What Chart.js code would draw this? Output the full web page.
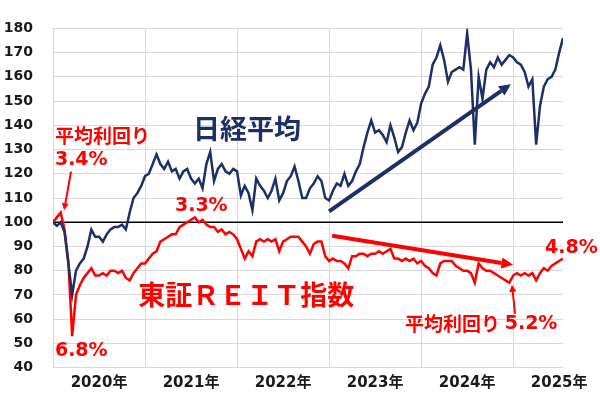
<!DOCTYPE html>
<html>
<head>
<meta charset="utf-8">
<script src="https://cdn.jsdelivr.net/npm/chart.js@4.4.1/dist/chart.umd.min.js"></script>
<style>
  html, body { margin: 0; padding: 0; background: #fff; }
  #wrap { width: 600px; height: 396px; }
</style>
</head>
<body>
<div id="wrap"><canvas id="chart" width="600" height="396"></canvas></div>
<script>
// 半月ごとの値 (2019年末=100), 2020年1月前半〜2025年7月後半
const yearLabels = ['2020年', '2021年', '2022年', '2023年', '2024年', '2025年'];

const nikkei = [
  100, 98.5, 100, 96, 83, 70, 80, 83, 85, 90, 97, 94, 94, 92, 95, 97, 98, 98, 99, 97, 104, 110, 112, 115,   // 2020
  119, 120, 124, 128, 124, 122, 125, 121, 122, 118, 121, 122, 118, 116, 118, 114, 124, 129, 117, 122, 124, 121, 120, 122, // 2021
  121, 111, 115, 112, 105, 118, 115, 113, 110, 113, 118, 109, 112, 117, 119, 123, 117, 110, 110, 114, 116, 119, 117, 110, // 2022
  109, 113, 116, 115, 120, 115, 117, 121, 124, 131, 137, 142, 137, 138, 136, 133, 140, 135, 129, 131, 137, 142, 138, 141, // 2023
  149, 153, 156, 165, 168, 173, 167, 158, 162, 163, 164, 163, 178, 163, 132, 160, 151, 163, 166, 164, 168, 165, 167, 169, // 2024
  168, 166, 165, 162, 156, 159, 132, 148, 156, 159, 160, 163, 170, 176                                                       // 2025
];

const reit = [
  100, 102, 104, 97, 84, 53, 70, 74, 77, 79, 81, 78, 78, 79, 78, 80, 80, 79, 80, 77, 76, 79, 81, 83,        // 2020
  83, 85, 87, 88, 92, 93, 94, 95, 95, 98, 99, 100, 101, 102, 100, 101, 99, 98, 98, 96, 97, 95, 96, 95,      // 2021
  93, 89, 85, 88, 86, 92, 93, 92, 93, 92, 93, 88, 92, 93, 94, 94, 94, 92, 90, 87, 91, 92, 92, 86,           // 2022
  84, 85, 84, 84, 83, 81, 86, 86, 87, 87, 86, 87, 87, 88, 87, 88, 89, 85, 85, 84, 85, 84, 85, 83,           // 2023
  84, 82, 81, 79, 78, 83, 84, 84, 84, 82, 81, 80, 80, 79, 75, 83, 81, 80, 80, 79, 78, 77, 76, 75,           // 2024
  78, 79, 78, 79, 78, 79, 76, 79, 81, 80, 82, 83, 84, 85                                                    // 2025
];

const baseLevel = 100;

const NAVY = '#1c2f66';
const RED = '#ff0000';
const GRID = '#d9d9d9';
const JP = "'Noto Sans CJK JP', 'DejaVu Sans', sans-serif";
const NUM = "'DejaVu Sans', 'Noto Sans CJK JP', sans-serif";

const toXY = arr => arr.map((v, i) => ({ x: i, y: v }));
const lastIndex = nikkei.length - 1;
const perYear = 24;

// 注記 (x = 半月インデックス, y = 指数値)
const notes = [
  { text: '日経平均', x: 36.5, y: 138.4, font: 'bold 27px ' + JP, color: NAVY },
  { text: '平均利回り', x: 0.5, y: 135.7, font: 'bold 19px ' + JP, color: RED },
  { text: '3.4%', x: 0.5, y: 125.5, font: 'bold 19px ' + NUM, color: RED },
  { text: '3.3%', x: 31.8, y: 106.5, font: 'bold 19px ' + NUM, color: RED },
  { text: '6.8%', x: 0.5, y: 47, font: 'bold 19px ' + NUM, color: RED },
  { text: '東証ＲＥＩＴ指数', x: 22.2, y: 69.9, font: 'bold 27px ' + JP, color: RED },
  { text: '平均利回り', x: 91.8, y: 57.9, font: 'bold 19px ' + JP, color: RED },
  { text: '5.2%', x: 117.8, y: 57.9, font: 'bold 19px ' + NUM, color: RED },
  { text: '4.8%', x: 128.3, y: 89.4, font: 'bold 19px ' + NUM, color: RED }
];

const arrows = [
  { from: [4.7, 120.9], to: [2.9, 104.9], color: RED, width: 2, head: 8 },
  { from: [72, 104.5], to: [119.4, 157], color: NAVY, width: 4, head: 13 },
  { from: [72.8, 94.4], to: [120, 82.4], color: RED, width: 4, head: 13 },
  { from: [120.5, 62.2], to: [119.7, 74.2], color: RED, width: 2, head: 8 }
];

function drawArrow(c, x1, y1, x2, y2, color, width, head) {
  const ang = Math.atan2(y2 - y1, x2 - x1);
  const bx = x2 - Math.cos(ang) * head * 0.9;
  const by = y2 - Math.sin(ang) * head * 0.9;
  c.strokeStyle = color;
  c.fillStyle = color;
  c.lineWidth = width;
  c.lineCap = 'butt';
  c.beginPath();
  c.moveTo(x1, y1);
  c.lineTo(bx, by);
  c.stroke();
  c.beginPath();
  c.moveTo(x2, y2);
  c.lineTo(x2 - Math.cos(ang - 0.45) * head, y2 - Math.sin(ang - 0.45) * head);
  c.lineTo(x2 - Math.cos(ang + 0.45) * head, y2 - Math.sin(ang + 0.45) * head);
  c.closePath();
  c.fill();
}

// 年の区切り線 (縦グリッド)
const yearGridPlugin = {
  id: 'yearGrid',
  beforeDatasetsDraw(chart) {
    const c = chart.ctx;
    const xs = chart.scales.x;
    const area = chart.chartArea;
    c.save();
    c.strokeStyle = GRID;
    c.lineWidth = 1;
    for (let v = 0; v <= lastIndex; v += perYear) {
      const px = Math.round(xs.getPixelForValue(v)) + 0.5;
      c.beginPath();
      c.moveTo(px, area.top);
      c.lineTo(px, area.bottom);
      c.stroke();
    }
    c.restore();
  }
};

const notesPlugin = {
  id: 'notes',
  afterDatasetsDraw(chart) {
    const c = chart.ctx;
    const xs = chart.scales.x, ys = chart.scales.y;
    c.save();
    arrows.forEach(a => {
      drawArrow(c,
        xs.getPixelForValue(a.from[0]), ys.getPixelForValue(a.from[1]),
        xs.getPixelForValue(a.to[0]), ys.getPixelForValue(a.to[1]),
        a.color, a.width, a.head);
    });
    c.textAlign = 'left';
    c.textBaseline = 'middle';
    notes.forEach(n => {
      c.font = n.font;
      c.fillStyle = n.color;
      c.fillText(n.text, xs.getPixelForValue(n.x), ys.getPixelForValue(n.y));
    });
    c.restore();
  }
};

new Chart(document.getElementById('chart'), {
  type: 'line',
  data: {
    datasets: [
      {
        label: '日経平均',
        data: toXY(nikkei),
        borderColor: NAVY,
        borderWidth: 2.5,
        pointRadius: 0,
        tension: 0,
        order: 1
      },
      {
        label: '東証REIT指数',
        data: toXY(reit),
        borderColor: RED,
        borderWidth: 2.5,
        pointRadius: 0,
        tension: 0,
        order: 2
      },
      {
        label: '基準',
        data: [{ x: 0, y: baseLevel }, { x: lastIndex, y: baseLevel }],
        borderColor: '#000',
        borderWidth: 1.5,
        pointRadius: 0,
        order: 3
      }
    ]
  },
  options: {
    responsive: false,
    animation: false,
    devicePixelRatio: 1,
    layout: { padding: { top: 13, right: 37, left: 0, bottom: 0 } },
    plugins: {
      legend: { display: false },
      tooltip: { enabled: false }
    },
    scales: {
      x: {
        type: 'linear',
        min: 0,
        max: lastIndex,
        afterBuildTicks: s => {
          s.ticks = yearLabels.map((_, k) => ({ value: k * perYear + perYear / 2 }));
        },
        afterFit: s => { s.height = 23; },
        border: { display: false },
        grid: { display: false, drawTicks: false },
        ticks: {
          autoSkip: false,
          maxRotation: 0,
          minRotation: 0,
          padding: 7,
          color: '#1a1a1a',
          font: { family: NUM, size: 15, weight: 'bold' },
          callback: v => yearLabels[Math.round((v - perYear / 2) / perYear)]
        }
      },
      y: {
        min: 40,
        max: 180,
        afterFit: s => { s.width = 53; },
        border: { display: false },
        grid: { drawTicks: false, color: GRID },
        ticks: {
          stepSize: 10,
          padding: 20,
          color: '#1a1a1a',
          font: { family: NUM, size: 14, weight: 'bold' }
        }
      }
    }
  },
  plugins: [yearGridPlugin, notesPlugin]
});
</script>
</body>
</html>
